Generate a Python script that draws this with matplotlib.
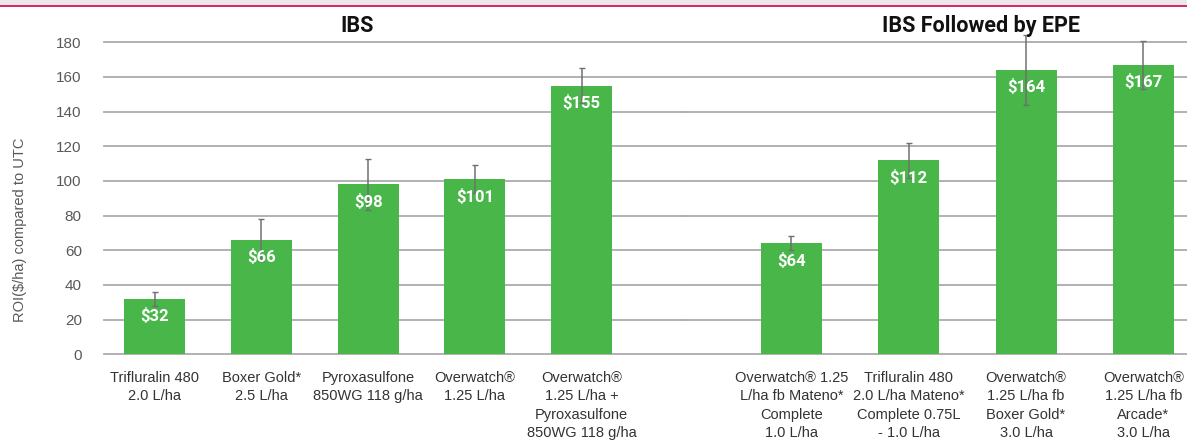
import numpy as np
import matplotlib.pyplot as plt
from matplotlib.patches import Rectangle

# data
ibs_labels = ["Trifluralin 480\n2.0 L/ha", "Boxer Gold*\n2.5 L/ha",
              "Pyroxasulfone\n850WG 118 g/ha", "Overwatch®\n1.25 L/ha",
              "Overwatch®\n1.25 L/ha +\nPyroxasulfone\n850WG 118 g/ha"]
ibs_roi = [32, 66, 98, 101, 155]
ibs_err = [4, 12, 14.5, 8, 10]

epe_labels = ["Overwatch® 1.25\nL/ha fb Mateno*\nComplete\n1.0 L/ha",
              "Trifluralin 480\n2.0 L/ha Mateno*\nComplete 0.75L\n- 1.0 L/ha",
              "Overwatch®\n1.25 L/ha fb\nBoxer Gold*\n3.0 L/ha",
              "Overwatch®\n1.25 L/ha fb\nArcade*\n3.0 L/ha"]
epe_roi = [64, 112, 164, 167]
epe_err = [4, 10, 20, 14]

yticks = np.arange(0, 181, 20)

green = '#48b649'
gridc = '#ababab'
bold_font = ['Roboto', 'DejaVu Sans']
plt.rcParams['font.family'] = ['Liberation Sans', 'DejaVu Sans']

W, H = 1187, 441
fig = plt.figure(figsize=(W/100, H/100), dpi=100)

# pink page stripe on top
fig.add_artist(Rectangle((0, 1-5/H), 1, 5/H, transform=fig.transFigure,
                         color='#ece8e9', lw=0))
fig.add_artist(Rectangle((0, 1-7.2/H), 1, 2.4/H, transform=fig.transFigure,
                         color='#d8276f', lw=0))

bot, ht = 86.7/H, 312/H
ax1 = fig.add_axes([104/W, bot, (686-104)/W, ht])
ax2 = fig.add_axes([686/W, bot, (1187-686)/W, ht])

def panel(ax, labels, vals, errs, xlim, width):
    x = np.arange(len(vals))
    ax.bar(x, vals, width=width, color=green, zorder=2)
    ax.errorbar(x, vals, yerr=errs, fmt='none', ecolor='#707070', elinewidth=1.1,
                capsize=2.5, capthick=1, zorder=3, clip_on=False)
    for xi, v in zip(x, vals):
        ax.annotate("$%d" % v, (xi, v), xytext=(0, -12.5), textcoords='offset points',
                    ha='center', va='center', color='white', fontsize=12,
                    fontweight='bold', family=bold_font, zorder=4)
    ax.set_xlim(*xlim)
    ax.set_ylim(0, 180)
    ax.set_yticks(yticks)
    ax.yaxis.grid(True, color=gridc, lw=1.3, zorder=0)
    for gl in ax.get_ygridlines():
        gl.set_clip_on(False)
    ax.set_axisbelow(True)
    for s in ax.spines.values():
        s.set_visible(False)
    ax.set_xticks(x)
    ax.set_xticklabels(labels, fontsize=10.5, color='#333333', linespacing=1.4)
    ax.tick_params(axis='x', length=0, pad=12)
    ax.tick_params(axis='y', length=0, pad=16, labelsize=11, labelcolor='#595959')

panel(ax1, ibs_labels, ibs_roi, ibs_err, (-0.474, 4.978), 0.571)
panel(ax2, epe_labels, epe_roi, epe_err, (-0.899, 3.372), 0.52)
ax2.tick_params(axis='y', labelleft=False)

fig.text(357/W, 1-26/H, "IBS", ha='center', va='center', fontsize=15.5,
         fontweight='bold', family=bold_font, color='#111111')
fig.text(981/W, 1-26/H, "IBS Followed by EPE", ha='center', va='center', fontsize=15.5,
         fontweight='bold', family=bold_font, color='#111111')
fig.text(20/W, 1-230/H, "ROI($/ha) compared to UTC", rotation=90, ha='center',
         va='center', fontsize=10.5, color='#595959')

fig.savefig("out.png", dpi=100)
